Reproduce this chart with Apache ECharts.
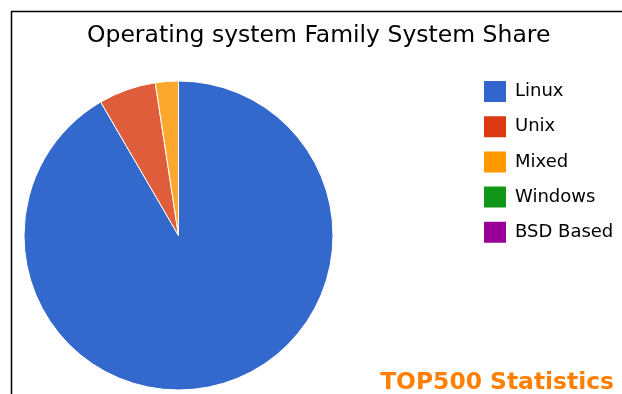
<!DOCTYPE html>
<html>
<head>
<meta charset="utf-8">
<script src="https://cdn.jsdelivr.net/npm/echarts@6/dist/echarts.min.js"></script>
<style>html,body{margin:0;padding:0;background:#fff}#c{width:622px;height:394px}</style>
</head>
<body>
<div id="c"></div>
<script>
const categories = ['Linux', 'Unix', 'Mixed', 'Windows', 'BSD Based'];
const values = [458, 30, 12, 0, 0];
const legendColors = ['#3366cc', '#dc3912', '#ff9900', '#109618', '#990099'];
const sliceColors = ['#3368cc', '#e05d3c', '#fba82c', '#109618', '#990099'];

const chart = echarts.init(document.getElementById('c'), null, {renderer: 'canvas'});
chart.setOption({
  animation: false,
  title: {
    text: 'Operating system Family System Share',
    left: 82, top: 19,
    textStyle: {fontFamily: 'DejaVu Sans', fontSize: 23.5, fontWeight: 'normal', color: '#000'}
  },
  legend: {
    orient: 'vertical', left: 482, top: 79, padding: 0,
    itemWidth: 24, itemHeight: 23, itemGap: 10.2,
    icon: 'rect',
    textStyle: {fontFamily: 'DejaVu Sans', fontSize: 18, color: '#000', padding: [0, 0, 0, 3]},
    data: categories.map((c, i) => ({name: c, itemStyle: {color: legendColors[i]}}))
  },
  graphic: [
    {type: 'polyline', shape: {points: [[11.5, 400], [11.5, 11.5], [630, 11.5]]}, style: {fill: 'none', stroke: '#000', lineWidth: 1.5}, z: 10},
    {type: 'text', right: 8, bottom: 0, style: {text: 'TOP500 Statistics', font: 'bold 23.4px "DejaVu Sans"', fill: '#ff8000'}}
  ],
  series: [{
    type: 'pie',
    center: [178.5, 235.5],
    radius: 154.5,
    startAngle: 90,
    clockwise: true,
    label: {show: false},
    labelLine: {show: false},
    emphasis: {disabled: true},
    itemStyle: {borderColor: '#fff', borderWidth: 1},
    data: categories.map((c, i) => ({name: c, value: values[i], itemStyle: {color: sliceColors[i]}}))
  }]
});
</script>
</body>
</html>
